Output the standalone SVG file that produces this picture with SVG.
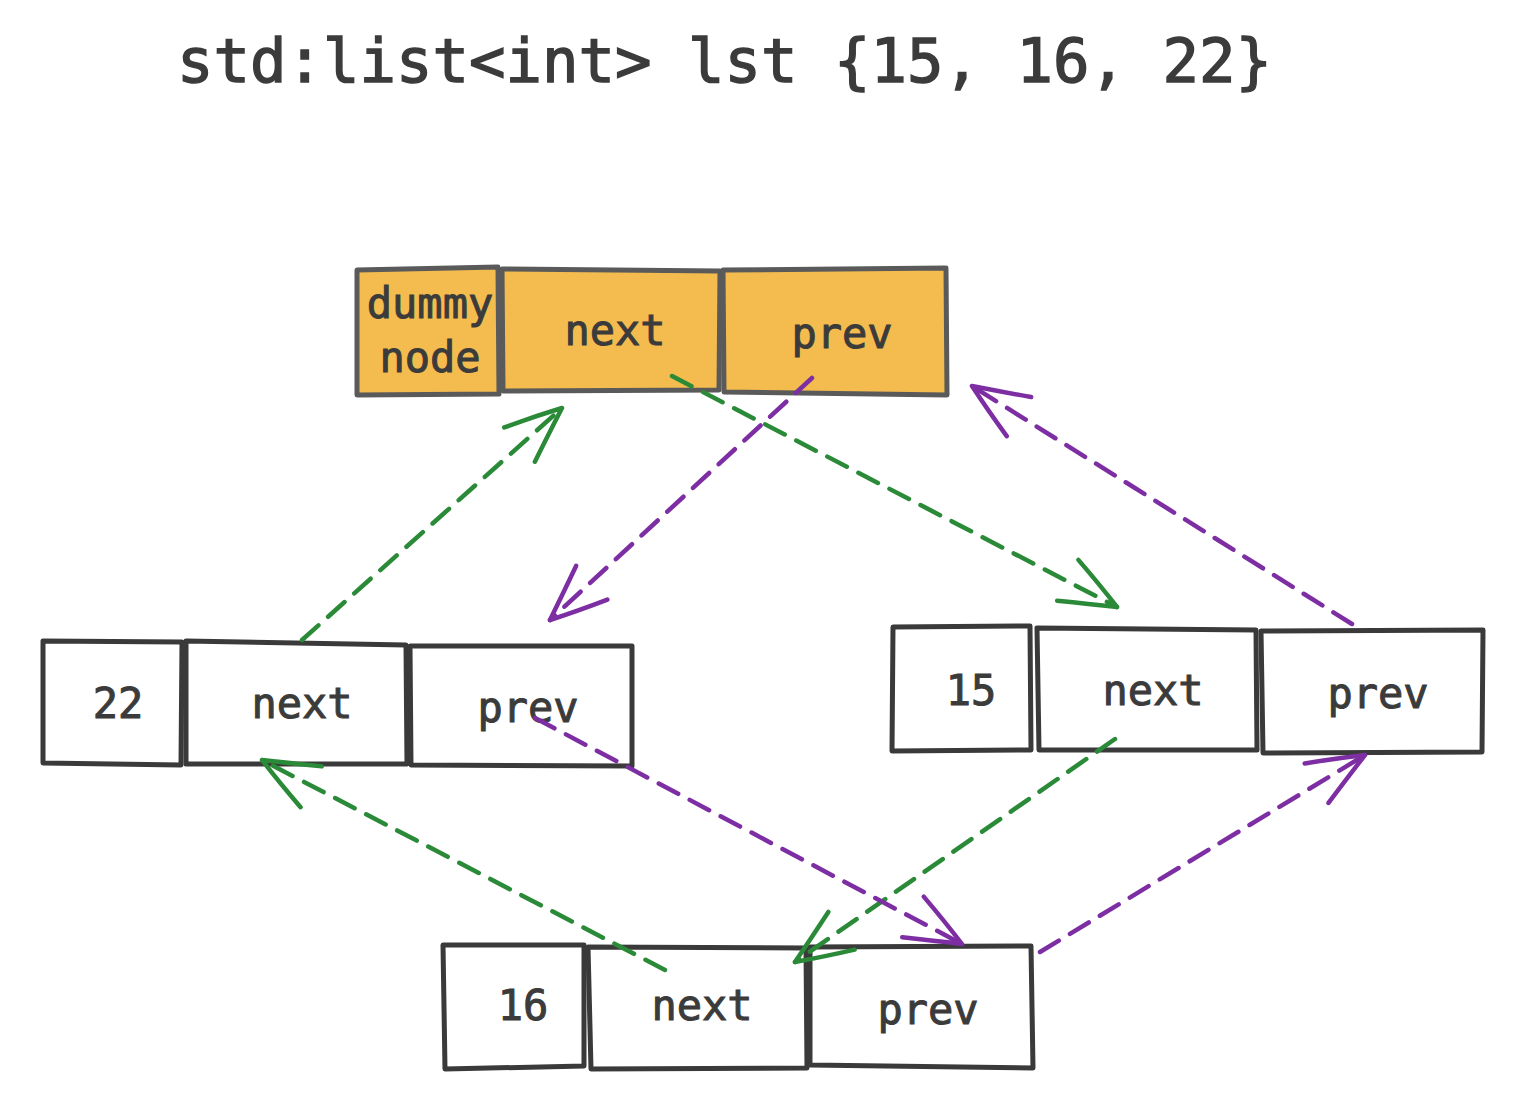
<svg xmlns="http://www.w3.org/2000/svg" width="1526" height="1106" viewBox="0 0 1526 1106">
<defs>
<style>
.box{fill:#ffffff;stroke:#3a3a3a;stroke-width:5;stroke-linejoin:round}
.dbox{fill:#f4bc4f;stroke:#5a5a5a;stroke-width:5;stroke-linejoin:round}
.lbl{font-family:"DejaVu Sans Mono","Liberation Mono",monospace;font-size:42px;fill:#3b3b3b;stroke:#3b3b3b;stroke-width:1;text-anchor:middle}
.title{font-family:"DejaVu Sans Mono","Liberation Mono",monospace;font-size:60px;fill:#3b3b3b;stroke:#3b3b3b;stroke-width:1.4}
.g{fill:none;stroke:#2a8a38;stroke-width:4.5;stroke-dasharray:22 13;stroke-linecap:round}
.p{fill:none;stroke:#7d2ea3;stroke-width:4.5;stroke-dasharray:22 13;stroke-linecap:round}
</style>
<marker id="ag" markerUnits="userSpaceOnUse" viewBox="-60 -30 66 60" markerWidth="66" markerHeight="60" refX="0" refY="0" orient="auto">
<path d="M -56 -24 Q -26 -12 0 0 M -56 22 Q -26 10 0 0" fill="none" stroke="#2a8a38" stroke-width="4.5" stroke-linecap="round"/>
</marker>
<marker id="ap" markerUnits="userSpaceOnUse" viewBox="-60 -30 66 60" markerWidth="66" markerHeight="60" refX="0" refY="0" orient="auto">
<path d="M -56 -24 Q -26 -12 0 0 M -56 22 Q -26 10 0 0" fill="none" stroke="#7d2ea3" stroke-width="4.5" stroke-linecap="round"/>
</marker>
</defs>
<rect width="1526" height="1106" fill="#ffffff"/>
<text class="title" x="177" y="82" textLength="1095" lengthAdjust="spacingAndGlyphs">std:list&lt;int&gt; lst {15, 16, 22}</text>

<g id="dummy">
<path class="dbox" d="M357 270 L498 267 L499 394 L357 395 Z"/>
<path class="dbox" d="M502 269 L720 271 L719 390 L503 391 Z"/>
<path class="dbox" d="M723 270 L946 268 L947 395 L724 392 Z"/>
<text class="lbl" x="430" y="318">dummy</text>
<text class="lbl" x="430" y="372">node</text>
<text class="lbl" x="615" y="345">next</text>
<text class="lbl" x="842" y="348">prev</text>
</g>

<g id="node22">
<path class="box" d="M43 641 L182 642 L181 765 L43 763 Z"/>
<path class="box" d="M186 641 L406 645 L407 764 L186 764 Z"/>
<path class="box" d="M410 646 L632 646 L632 766 L411 765 Z"/>
<text class="lbl" x="118" y="718">22</text>
<text class="lbl" x="302" y="718">next</text>
<text class="lbl" x="528" y="722">prev</text>
</g>

<g id="node15">
<path class="box" d="M893 627 L1030 626 L1031 750 L892 751 Z"/>
<path class="box" d="M1037 628 L1256 630 L1257 750 L1039 750 Z"/>
<path class="box" d="M1261 631 L1483 630 L1482 752 L1263 753 Z"/>
<text class="lbl" x="971" y="705">15</text>
<text class="lbl" x="1153" y="705">next</text>
<text class="lbl" x="1378" y="708">prev</text>
</g>

<g id="node16">
<path class="box" d="M443 945 L584 945 L584 1066 L445 1069 Z"/>
<path class="box" d="M588 947 L806 948 L807 1068 L591 1069 Z"/>
<path class="box" d="M810 947 L1031 946 L1033 1068 L810 1065 Z"/>
<text class="lbl" x="523" y="1020">16</text>
<text class="lbl" x="702" y="1020">next</text>
<text class="lbl" x="928" y="1024">prev</text>
</g>

<g id="connectors">
<path class="g" d="M302 640 L562 408" marker-end="url(#ag)"/>
<path class="g" d="M672 376 L1117 607" marker-end="url(#ag)"/>
<path class="g" d="M1115 739 L795 962" marker-end="url(#ag)"/>
<path class="g" d="M665 970 L262 760" marker-end="url(#ag)"/>
<path class="p" d="M812 378 L550 620" marker-end="url(#ap)"/>
<path class="p" d="M1352 624 L972 386" marker-end="url(#ap)"/>
<path class="p" d="M535 718 L962 944" marker-end="url(#ap)"/>
<path class="p" d="M1040 952 L1365 755" marker-end="url(#ap)"/>
</g>
</svg>
